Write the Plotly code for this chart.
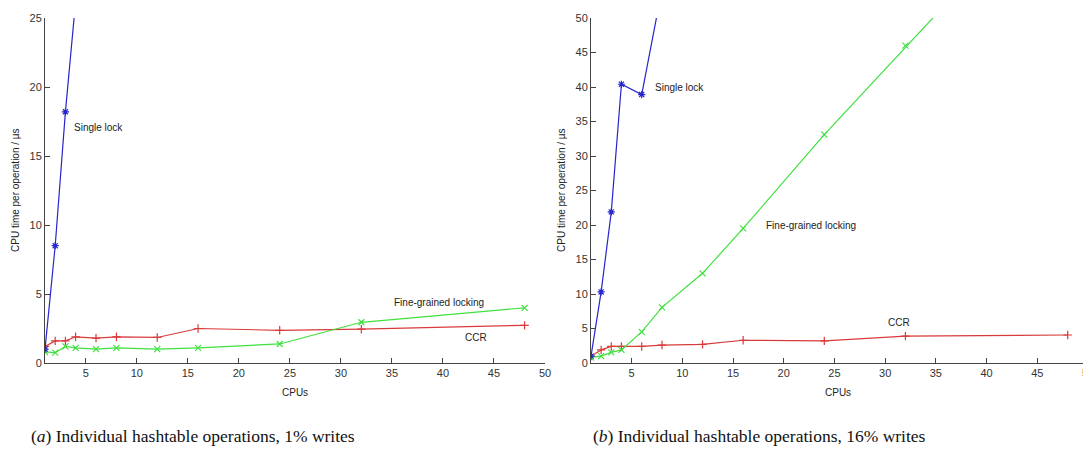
import plotly.graph_objects as go

cpus = [1, 2, 3, 4, 6, 8, 12, 16, 24, 32, 48]

# Panel (a): 1% writes
a_single_x = [1, 2, 3, 4]
a_single = [1.0, 8.5, 18.2, 26.2]
a_ccr = [1.2, 1.6, 1.6, 1.9, 1.8, 1.9, 1.85, 2.5, 2.37, 2.45, 2.73]
a_fine = [0.8, 0.75, 1.2, 1.1, 1.0, 1.1, 1.0, 1.1, 1.38, 2.95, 4.0]

# Panel (b): 16% writes
b_single_x = [1, 2, 3, 4, 6, 8]
b_single = [1.0, 10.3, 21.9, 40.4, 38.9, 54.2]
b_ccr = [1.0, 1.9, 2.4, 2.4, 2.4, 2.6, 2.7, 3.3, 3.2, 3.9, 4.06]
b_fine = [0.8, 1.0, 1.55, 1.9, 4.5, 8.07, 13.0, 19.5, 33.1, 46.0, 71.0]

BLUE = "#2626cc"
RED = "#d93a3a"
GREEN = "#3fe03f"

W, H = 1091, 455
OFF = 8  # page body margin

def fx(px):
    return (px - OFF) / W

def fy(py):
    return 1 - (py - OFF) / H

fig = go.Figure()

def add(x, y, color, symbol, xa, ya):
    fig.add_trace(go.Scatter(
        x=x, y=y, mode="lines+markers", xaxis=xa, yaxis=ya,
        line=dict(color=color, width=1.2),
        marker=dict(symbol=symbol, size=6, color=color, line=dict(color=color, width=1.2)),
        showlegend=False, cliponaxis=True))

add(cpus, a_ccr, RED, "cross-thin-open", "x", "y")
add(cpus, a_fine, GREEN, "x-thin-open", "x", "y")
add(a_single_x, a_single, BLUE, "asterisk-open", "x", "y")
add(cpus, b_ccr, RED, "cross-thin-open", "x2", "y2")
add(cpus, b_fine, GREEN, "x-thin-open", "x2", "y2")
add(b_single_x, b_single, BLUE, "asterisk-open", "x2", "y2")

ydom = [fy(363), fy(18)]
axcommon = dict(showgrid=False, zeroline=False, showline=True, linecolor="#444",
                linewidth=1, ticks="inside", ticklen=5, tickcolor="#444",
                tickfont=dict(family="Liberation Sans, Arial", size=11, color="#333"),
                mirror=False, automargin=False)

fig.update_layout(
    width=W, height=H, margin=dict(l=0, r=0, t=0, b=0, pad=0, autoexpand=False),
    paper_bgcolor="white", plot_bgcolor="white",
    xaxis=dict(domain=[fx(45), fx(545)], range=[1, 50], tick0=0, dtick=5, anchor="y", **axcommon),
    yaxis=dict(domain=ydom, range=[0, 25], tick0=0, dtick=5, anchor="x", **axcommon),
    xaxis2=dict(domain=[fx(591), fx(1088)], range=[1, 50], tick0=0, dtick=5, anchor="y2", **axcommon),
    yaxis2=dict(domain=ydom, range=[0, 50], tick0=0, dtick=5, anchor="x2", **axcommon),
)

lab = dict(family="Liberation Sans, Arial", size=10, color="#222")

def pa(text, px, py, size=10, angle=0, font=None, xanchor="center"):
    f = dict(lab) if font is None else dict(font)
    f["size"] = size
    fig.add_annotation(text=text, x=fx(px), y=fy(py), xref="paper", yref="paper",
                       showarrow=False, font=f, textangle=angle, xanchor=xanchor, yanchor="middle")

# in-plot labels
pa("Single lock", 72, 128, xanchor="left")
pa("Fine-grained locking", 392, 302, xanchor="left")
pa("CCR", 463, 337, xanchor="left")
pa("Single lock", 653, 87, xanchor="left")
pa("Fine-grained locking", 764, 225, xanchor="left")
pa("CCR", 886, 322, xanchor="left")

# axis titles
pa("CPU time per operation / µs", 15, 190, size=10, angle=-90)
pa("CPU time per operation / µs", 561, 190, size=10, angle=-90)
pa("CPUs", 295, 392, size=10)
pa("CPUs", 838, 392, size=10)

# captions
serif = dict(family="Liberation Serif, DejaVu Serif", size=17.5, color="#111")
pa("(<i>a</i>) Individual hashtable operations, 1% writes", 193, 436, size=17.5, font=serif)
pa("(<i>b</i>) Individual hashtable operations, 16% writes", 759, 436, size=17.5, font=serif)

fig.write_html("out.html")
